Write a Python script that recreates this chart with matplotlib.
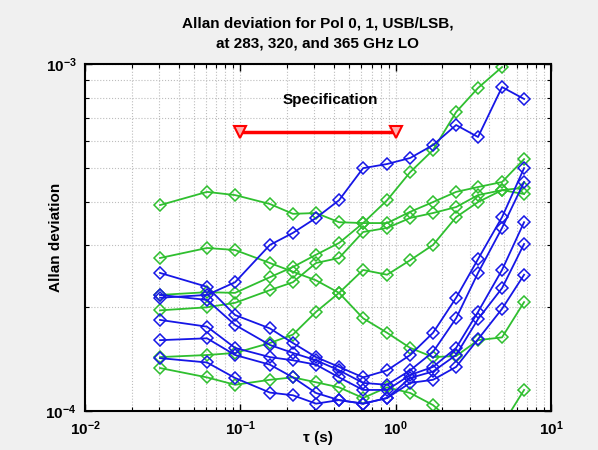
import numpy as np
import matplotlib
matplotlib.use("Agg")
import matplotlib.pyplot as plt
from matplotlib.ticker import LogLocator, NullFormatter

plt.rcParams['font.family'] = ['Liberation Sans', 'DejaVu Sans']
plt.rcParams['font.weight'] = 'bold'
plt.rcParams['mathtext.default'] = 'bf'

# averaging times (s)
tau = [0.0304, 0.061, 0.0925, 0.155, 0.218, 0.307, 0.432, 0.617, 0.881,
       1.24, 1.74, 2.45, 3.39, 4.84, 6.71]

# Allan deviation, units of 1e-4
green_series = [
    [3.92, 4.28, 4.19, 3.95, 3.70, 3.72, 3.50, 3.48, 3.48, 3.75, 4.00, 4.28, 4.42, 4.57, 5.32],
    [2.76, 2.95, 2.91, 2.67, 2.52, 2.38, 2.19, 1.85, 1.68, 1.52, 1.43, 1.44, 1.60, 1.63, 2.06],
    [2.16, 2.20, 2.19, 2.43, 2.60, 2.82, 3.05, 3.48, 4.05, 4.88, 5.65, 7.27, 8.53, 9.80, np.nan],
    [1.95, 1.99, 2.05, 2.23, 2.35, 2.67, 2.76, 3.28, 3.37, 3.60, 3.72, 3.87, 4.19, 4.33, 4.40],
    [1.43, 1.45, 1.47, 1.57, 1.66, 1.93, 2.19, 2.55, 2.47, 2.72, 3.01, 3.62, 4.00, 4.33, 4.22],
    [1.33, 1.25, 1.19, 1.23, 1.25, 1.21, 1.17, 1.09, 1.17, 1.127, 1.04, 0.91, 0.825, 0.91, 1.15],
]
blue_series = [
    [2.12, 2.16, 2.35, 3.01, 3.26, 3.60, 4.05, 5.01, 5.15, 5.36, 5.84, 6.67, 6.16, 8.58, 7.93],
    [2.50, 2.28, 1.89, 1.73, 1.57, 1.43, 1.34, 1.25, 1.31, 1.45, 1.68, 2.12, 2.74, 3.62, 5.01],
    [2.16, 2.09, 1.77, 1.55, 1.47, 1.40, 1.31, 1.205, 1.19, 1.31, 1.48, 1.85, 2.50, 3.37, 4.57],
    [1.83, 1.75, 1.52, 1.43, 1.40, 1.36, 1.25, 1.15, 1.15, 1.27, 1.34, 1.52, 1.93, 2.55, 3.50],
    [1.60, 1.62, 1.45, 1.36, 1.25, 1.127, 1.075, 1.05, 1.09, 1.245, 1.30, 1.45, 1.84, 2.26, 3.03],
    [1.42, 1.38, 1.245, 1.13, 1.11, 1.05, 1.075, 1.05, 1.09, 1.205, 1.23, 1.34, 1.61, 1.97, 2.47],
]
scale = 1e-4

spec_tau = [0.1, 1.0]
spec_value = [6.35e-4, 6.35e-4]
spec_label = "Specification"
spec_label_pos = (0.378, 7.88e-4)

title = "Allan deviation for Pol 0, 1, USB/LSB,\nat 283, 320, and 365 GHz LO"
xlabel = "τ (s)"
ylabel = "Allan deviation"

fig = plt.figure(figsize=(5.98, 4.5), dpi=100, facecolor='#f0f0f0')
ax = fig.add_axes([85/598, 1 - 411/450, (551 - 85)/598, (411 - 64)/450])
ax.set_facecolor('white')

green = '#2fbf2f'
blue = '#1616e6'
t = np.array(tau)
for s in green_series:
    ax.plot(t, np.array(s) * scale, color=green, lw=1.3, marker='D', ms=6,
            mfc='none', mew=1.1)
for s in blue_series:
    ax.plot(t, np.array(s) * scale, color=blue, lw=1.3, marker='D', ms=6,
            mfc='none', mew=1.1)

ax.plot(spec_tau, spec_value, color='#ff0000', lw=2.5, marker='v', ms=9,
        mfc='#ffb0b0', mec='#ff0000', mew=1.5)
ax.text(spec_label_pos[0], spec_label_pos[1], spec_label, ha='center', va='center',
        fontsize=11, fontweight='bold')

ax.set_xscale('log')
ax.set_yscale('log')
ax.set_xlim(1e-2, 1e1)
ax.set_ylim(1e-4, 1e-3)

ax.xaxis.set_major_locator(LogLocator(base=10, numticks=10))
ax.yaxis.set_major_locator(LogLocator(base=10, numticks=10))
ax.xaxis.set_minor_locator(LogLocator(base=10, subs=np.arange(2, 10), numticks=20))
ax.yaxis.set_minor_locator(LogLocator(base=10, subs=np.arange(2, 10), numticks=20))
ax.xaxis.set_minor_formatter(NullFormatter())
ax.yaxis.set_minor_formatter(NullFormatter())

ax.grid(True, which='both', color='#bdbdbd', linestyle=':', linewidth=0.8)
ax.tick_params(which='both', direction='in', top=True, right=True, labelsize=11)
ax.tick_params(which='major', length=5, width=1.0, pad=6)
ax.tick_params(which='minor', length=3, width=0.8)
for sp in ax.spines.values():
    sp.set_linewidth(1.5)

ax.set_title(title, fontsize=11, fontweight='bold', pad=12, linespacing=1.55)
ax.set_xlabel(xlabel, fontsize=11, fontweight='bold', va='center')
ax.xaxis.set_label_coords(0.5, -0.078)
ax.set_ylabel(ylabel, fontsize=11, fontweight='bold', va='center')
ax.yaxis.set_label_coords(-0.062, 0.5)

fig.savefig('out.png', dpi=100, facecolor=fig.get_facecolor())
